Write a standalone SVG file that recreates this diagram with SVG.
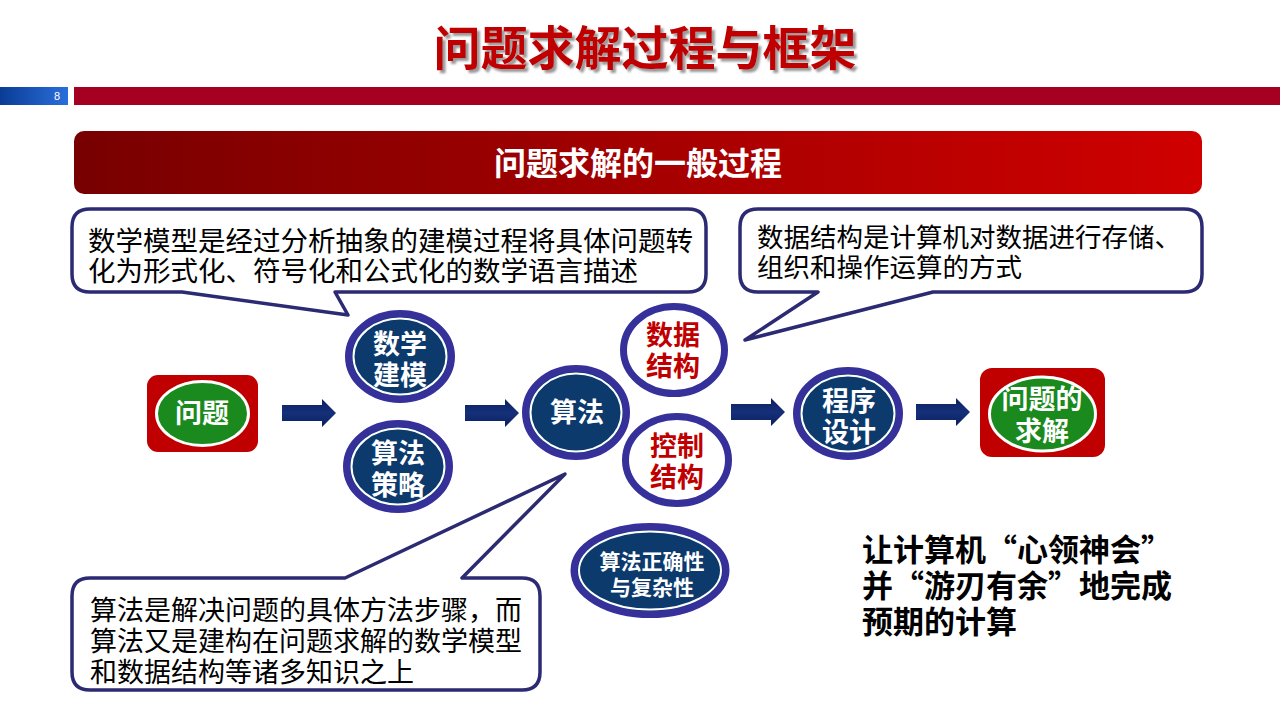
<svg xmlns="http://www.w3.org/2000/svg" width="1280" height="720" viewBox="0 0 1280 720">
<defs>
<linearGradient id="banner" x1="0" y1="0" x2="1" y2="0">
<stop offset="0" stop-color="#780000"/>
<stop offset="1" stop-color="#D00000"/>
</linearGradient>
<linearGradient id="blue" x1="0" y1="0" x2="1" y2="0">
<stop offset="0" stop-color="#0A3C96"/>
<stop offset="1" stop-color="#2A6FDB"/>
</linearGradient>
<linearGradient id="arrowg" x1="0" y1="0" x2="0" y2="1">
<stop offset="0" stop-color="#0B1F5E"/>
<stop offset="0.5" stop-color="#15307A"/>
<stop offset="1" stop-color="#0B1F5E"/>
</linearGradient>
<filter id="shadow" x="-5%" y="-20%" width="110%" height="140%">
<feDropShadow dx="3" dy="3" stdDeviation="1" flood-color="#555" flood-opacity="0.6"/>
</filter>
<path id="arrow" d="M0,6 H40 V0 L54,14 L40,28 V22 H0 Z"/>
</defs>
<style>
.cj{font-family:"Noto Sans CJK SC","Noto Sans",sans-serif}
.call{font-family:"Noto Sans CJK SC","Noto Sans",sans-serif;fill:#000}
.bub{fill:#fff;stroke:#2B2A72;stroke-width:3.5;stroke-linejoin:round}
.ring{fill:#0C3A6C;stroke:#35309A;stroke-width:7}
.wring{fill:none;stroke:#fff;stroke-width:2}
.oring{fill:#fff;stroke:#35309A;stroke-width:7}
.wt{font-family:"Noto Sans CJK SC","Noto Sans",sans-serif;font-weight:700;fill:#fff;text-anchor:middle}
.rt{font-family:"Noto Sans CJK SC","Noto Sans",sans-serif;font-weight:700;fill:#C00000;text-anchor:middle}
.arr{fill:url(#arrowg)}
</style>
<rect width="1280" height="720" fill="#fff"/>

<g id="title">
<text class="cj" x="645" y="65" font-size="47" font-weight="700" fill="#C00000" text-anchor="middle" filter="url(#shadow)">问题求解过程与框架</text>
</g>
<g id="header-bar">
<rect x="0" y="87" width="68" height="18" fill="url(#blue)"/>
<text x="57" y="100" font-size="11" fill="#fff" text-anchor="middle" font-family="Liberation Sans,sans-serif">8</text>
<rect x="74" y="87" width="1206" height="18" fill="#A50021"/>
</g>
<g id="banner-box">
<rect x="74" y="131" width="1128" height="63" rx="10" fill="url(#banner)"/>
<text class="cj" x="638" y="175" font-size="32" font-weight="700" fill="#fff" text-anchor="middle">问题求解的一般过程</text>
</g>

<g id="callout-model">
<path class="bub" d="M90,209 H688 Q706,209 706,227 V274 Q706,292 688,292 H335 L348,315 L182,292 H90 Q72,292 72,274 V227 Q72,209 90,209 Z"/>
<text class="call" x="88" y="251" font-size="27.5">数学模型是经过分析抽象的建模过程将具体问题转</text>
<text class="call" x="88" y="281" font-size="27.5">化为形式化、符号化和公式化的数学语言描述</text>
</g>
<g id="callout-ds">
<path class="bub" d="M758,209 H1184 Q1202,209 1202,227 V274 Q1202,292 1184,292 H933 L745,340 L818,292 H758 Q740,292 740,274 V227 Q740,209 758,209 Z"/>
<text class="call" x="757" y="247" font-size="26.5">数据结构是计算机对数据进行存储、</text>
<text class="call" x="757" y="277" font-size="26.5">组织和操作运算的方式</text>
</g>
<g id="callout-algo">
<path class="bub" d="M90,578 H345 L565,474 L462,578 H522 Q540,578 540,596 V672 Q540,690 522,690 H90 Q72,690 72,672 V596 Q72,578 90,578 Z"/>
<text class="call" x="90" y="620" font-size="27">算法是解决问题的具体方法步骤，而</text>
<text class="call" x="90" y="651" font-size="27">算法又是建构在问题求解的数学模型</text>
<text class="call" x="90" y="682" font-size="27">和数据结构等诸多知识之上</text>
</g>

<g id="connectors">
<use href="#arrow" class="arr" x="282" y="399"/>
<use href="#arrow" class="arr" x="465" y="399"/>
<use href="#arrow" class="arr" x="731" y="398"/>
<use href="#arrow" class="arr" x="916" y="398"/>
</g>

<g id="node-problem">
<rect x="147" y="375" width="111" height="77" rx="11" fill="#C00000"/>
<ellipse cx="202.5" cy="413.5" rx="46" ry="32" fill="#1A8A1E" stroke="#fff" stroke-width="3"/>
<text class="wt" x="202" y="423" font-size="27">问题</text>
</g>
<g id="node-model">
<ellipse class="ring" cx="400" cy="356.5" rx="51.5" ry="43"/>
<ellipse class="wring" cx="400" cy="356.5" rx="46.5" ry="38"/>
<text class="wt" x="400" y="354" font-size="27">数学</text>
<text class="wt" x="400" y="385" font-size="27">建模</text>
</g>
<g id="node-strategy">
<ellipse class="ring" cx="398" cy="466.5" rx="51.5" ry="43"/>
<ellipse class="wring" cx="398" cy="466.5" rx="46.5" ry="38"/>
<text class="wt" x="398" y="463" font-size="27">算法</text>
<text class="wt" x="398" y="495" font-size="27">策略</text>
</g>
<g id="node-algorithm">
<ellipse class="ring" cx="576" cy="412.5" rx="50.5" ry="44"/>
<ellipse class="wring" cx="576" cy="412.5" rx="45.5" ry="39"/>
<text class="wt" x="577" y="422" font-size="27">算法</text>
</g>
<g id="node-datastruct">
<ellipse class="oring" cx="674" cy="350" rx="50.5" ry="43.5"/>
<text class="rt" x="673" y="345" font-size="27">数据</text>
<text class="rt" x="673" y="376" font-size="27">结构</text>
</g>
<g id="node-control">
<ellipse class="oring" cx="677" cy="460" rx="51.5" ry="43.5"/>
<text class="rt" x="677" y="456" font-size="27">控制</text>
<text class="rt" x="677" y="487" font-size="27">结构</text>
</g>
<g id="node-program">
<ellipse class="ring" cx="848" cy="413.5" rx="51.5" ry="43"/>
<ellipse class="wring" cx="848" cy="413.5" rx="46.5" ry="38"/>
<text class="wt" x="849" y="411" font-size="27">程序</text>
<text class="wt" x="849" y="442" font-size="27">设计</text>
</g>
<g id="node-solution">
<rect x="980" y="368" width="125" height="89" rx="12" fill="#C00000"/>
<ellipse cx="1042.5" cy="414" rx="53" ry="37" fill="#1A8A1E" stroke="#fff" stroke-width="3"/>
<text class="wt" x="1042" y="409" font-size="27">问题的</text>
<text class="wt" x="1042" y="441" font-size="27">求解</text>
</g>
<g id="node-correctness">
<ellipse class="ring" cx="650" cy="570.5" rx="76" ry="44"/>
<ellipse class="wring" cx="650" cy="570.5" rx="71" ry="39"/>
<text class="wt" x="652" y="569" font-size="21">算法正确性</text>
<text class="wt" x="652" y="595" font-size="21">与复杂性</text>
</g>

<g id="note">
<text class="cj" x="862" y="561" font-size="31" font-weight="700" fill="#000">让计算机“心领神会”</text>
<text class="cj" x="862" y="597" font-size="31" font-weight="700" fill="#000">并“游刃有余”地完成</text>
<text class="cj" x="862" y="633" font-size="31" font-weight="700" fill="#000">预期的计算</text>
</g>
</svg>
